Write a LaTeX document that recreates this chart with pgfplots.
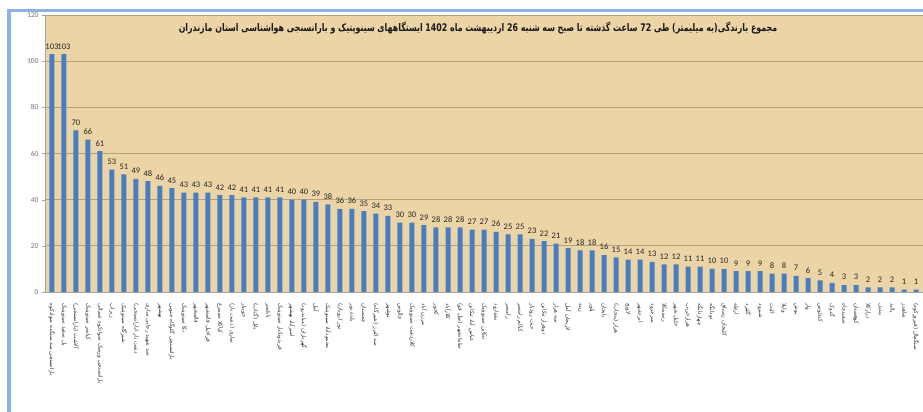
\documentclass[border=0pt]{standalone}
\usepackage{pgfplots}
\pgfplotsset{compat=1.18}
\usepackage{fontspec}
\setmainfont{Carlito}
\newfontfamily\fafont[Script=Arabic]{DejaVu Sans}
\TeXXeTstate=1

\definecolor{parchment}{HTML}{EBD5A6}
\definecolor{gridbrown}{HTML}{B3A27C}
\definecolor{barblue}{HTML}{4A7DC0}
\definecolor{frameblue}{HTML}{8DB3E2}

\begin{document}
\begin{tikzpicture}[x=1pt,y=1pt]
\path[use as bounding box, fill=white] (0,0) rectangle (923,412);
% panel frame
\fill[frameblue] (7,0) rectangle (11,402);
\fill[frameblue] (7,400) rectangle (923,402.5);

\begin{axis}[
  at={(45pt,120pt)}, anchor=south west,
  scale only axis, width=878pt, height=277pt,
  xmin=0.42, xmax=73.58, ymin=0, ymax=120,
  axis background/.style={fill=parchment},
  axis line style={black!35},
  axis x line*=bottom, axis y line*=left,
  ytick={0,20,...,120},
  ymajorgrids, grid style={gridbrown, line width=0.8pt},
  tick align=outside, major tick length=3pt,
  tick style={black!35},
  xtick={1,...,73}, x tick style={draw=none},
  yticklabel style={font=\fontsize{7.5}{8}\selectfont, text=black!55},
  /pgf/number format/assume math mode=true,
  xticklabel style={font=\fafont\fontsize{5.6}{6}\selectfont, text=black!80, rotate=-90, anchor=west, xshift=5pt},
  xticklabels={
    {\beginR بارانسنجی سد سنگده سوادکوه\endR},{\beginR پل سفید سینوپتیک\endR},{\beginR آلاشت (بارانسنجی)\endR},{\beginR کیاسر سینوپتیک\endR},{\beginR بارانسنجی ورسک سوادکوه شمالی\endR},
    {\beginR زیراب\endR},{\beginR شیرگاه سینوپتیک\endR},{\beginR دشت ناز (بارانسنجی)\endR},{\beginR سد شهید رجایی ساری\endR},{\beginR بهشهر\endR},
    {\beginR بارانسنجی گلوگاه جنوبی\endR},{\beginR نکا سینوپتیک\endR},{\beginR قائمشهر\endR},{\beginR قراخیل قائمشهر\endR},{\beginR کیاکلا سیمرغ\endR},
    {\beginR ساری (دشت ناز)\endR},{\beginR جویبار\endR},{\beginR بابل (گتاب)\endR},{\beginR بابلسر\endR},{\beginR فریدونکنار سینوپتیک\endR},
    {\beginR امیرآباد بهشهر\endR},{\beginR گهرباران (میاندرود)\endR},{\beginR آمل\endR},{\beginR محمودآباد سینوپتیک\endR},{\beginR نور (رویان)\endR},
    {\beginR بلده نور\endR},{\beginR چمستان\endR},{\beginR سد البرز (شیرگاه)\endR},{\beginR نوشهر\endR},{\beginR چالوس\endR},
    {\beginR کلاردشت سینوپتیک\endR},{\beginR مرزن آباد\endR},{\beginR کجور\endR},{\beginR کلارآباد\endR},{\beginR سلمانشهر (متل قو)\endR},
    {\beginR عباس آباد تنکابن\endR},{\beginR تنکابن سینوپتیک\endR},{\beginR نشتارود\endR},{\beginR رامسر\endR},{\beginR کتالم رامسر\endR},
    {\beginR جنت رودبار\endR},{\beginR دوهزار تنکابن\endR},{\beginR سه هزار\endR},{\beginR لاریجان آمل\endR},{\beginR رینه\endR},
    {\beginR پلور\endR},{\beginR بایجان\endR},{\beginR هراز (پنجاب)\endR},{\beginR لاویج\endR},{\beginR ایزدشهر\endR},
    {\beginR سرخرود\endR},{\beginR رستمکلا\endR},{\beginR خلیل شهر\endR},{\beginR هزارجریب\endR},{\beginR چهاردانگه\endR},
    {\beginR دودانگه\endR},{\beginR کلیجان رستاق\endR},{\beginR ارطه\endR},{\beginR گلیرد\endR},{\beginR شیرود\endR},
    {\beginR الیت\endR},{\beginR ولیلا\endR},{\beginR یوش\endR},{\beginR واز\endR},{\beginR کندلوس\endR},
    {\beginR گدوک\endR},{\beginR سفیدچاه\endR},{\beginR کوهستان\endR},{\beginR درازکلا\endR},{\beginR بندپی\endR},
    {\beginR پالند\endR},{\beginR شاهدژ\endR},{\beginR سنگچال (فیروزکوه)\endR}},
  clip=false,
]
\addplot[ybar, bar width=5pt, fill=barblue, draw=none,
  nodes near coords,
  every node near coord/.append style={font=\fontsize{8.5}{9}\selectfont, text=black!85, yshift=1.5pt},
] coordinates {
 (1,103) (2,103) (3,70) (4,66) (5,61) (6,53) (7,51) (8,49) (9,48) (10,46)
 (11,45) (12,43) (13,43) (14,43) (15,42) (16,42) (17,41) (18,41) (19,41) (20,41)
 (21,40) (22,40) (23,39) (24,38) (25,36) (26,36) (27,35) (28,34) (29,33) (30,30)
 (31,30) (32,29) (33,28) (34,28) (35,28) (36,27) (37,27) (38,26) (39,25) (40,25)
 (41,23) (42,22) (43,21) (44,19) (45,18) (46,18) (47,16) (48,15) (49,14) (50,14)
 (51,13) (52,12) (53,12) (54,11) (55,11) (56,10) (57,10) (58,9) (59,9) (60,9)
 (61,8) (62,8) (63,7) (64,6) (65,5) (66,4) (67,3) (68,3) (69,2) (70,2)
 (71,2) (72,1) (73,1)
};
\end{axis}

\node[inner sep=0pt, text=black!90] at (478,384)
  {\scalebox{0.75}[1]{\fafont\bfseries\fontsize{10.5}{12}\selectfont\beginR مجموع بارندگی(به میلیمتر) طی 72 ساعت گذشته تا صبح سه شنبه 26 اردیبهشت ماه 1402 ایستگاههای سینوپتیک و بارانسنجی هواشناسی استان مازندران\endR}};
\end{tikzpicture}
\end{document}
